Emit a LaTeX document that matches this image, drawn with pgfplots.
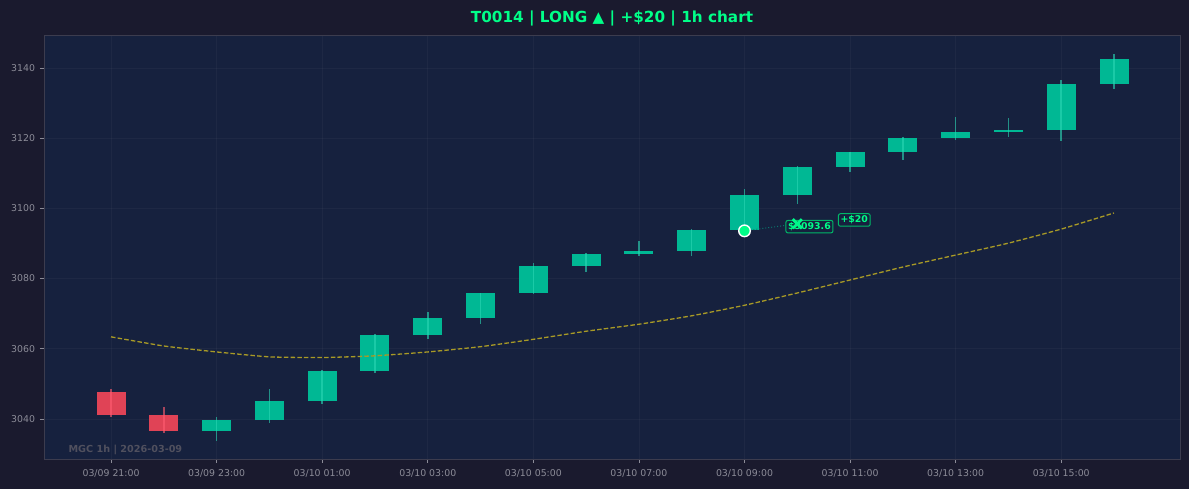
\documentclass[border=0pt]{standalone}
\usepackage{pgfplots}
\pgfplotsset{compat=1.18}
\usepackage{pgfplotstable}
\usepackage{fontspec}
\setmainfont{DejaVu Sans}
\definecolor{figbg}{HTML}{1A1A2E}
\definecolor{plotbg}{HTML}{16213E}
\definecolor{cgreen}{HTML}{00B894}
\definecolor{cred}{HTML}{E04356}
\definecolor{wgreen}{HTML}{2AD6B4}
\definecolor{wred}{HTML}{FF5C70}
\definecolor{neon}{HTML}{00FF88}
\definecolor{lblborder}{HTML}{00B868}
\definecolor{maline}{HTML}{A89A26}
\definecolor{spine}{HTML}{3C3C4E}
\definecolor{ticktext}{HTML}{8C8C98}
\definecolor{wmark}{HTML}{50505E}

\pgfplotstableread{
x open high low close
0 3047.7 3048.5 3040.6 3041.1
1 3041.1 3043.4 3036.1 3036.6
2 3036.6 3040.6 3033.8 3039.7
3 3039.7 3048.5 3038.9 3045.1
4 3045.1 3054.0 3044.3 3053.7
5 3053.7 3064.2 3053.1 3063.9
6 3063.9 3070.5 3062.8 3068.8
7 3068.8 3076.0 3067.1 3075.9
8 3075.9 3084.4 3075.6 3083.6
9 3083.6 3087.3 3081.9 3087.0
10 3087.0 3090.7 3086.4 3087.9
11 3087.9 3094.1 3086.4 3093.8
12 3093.8 3105.5 3093.5 3103.8
13 3103.8 3112.1 3101.3 3111.8
14 3111.8 3116.2 3110.4 3116.1
15 3116.1 3120.4 3113.8 3120.1
16 3120.1 3126.0 3119.5 3121.8
17 3121.8 3125.8 3120.3 3122.3
18 3122.3 3136.6 3119.2 3135.4
19 3135.4 3144.0 3134.0 3142.6
}\candles

\pgfplotstableread{
x ma
0 3063.4
1 3060.8
2 3059.1
3 3057.7
4 3057.5
5 3058.0
6 3059.1
7 3060.6
8 3062.7
9 3065.0
10 3067.0
11 3069.4
12 3072.4
13 3075.9
14 3079.6
15 3083.3
16 3086.7
17 3090.1
18 3094.1
19 3098.7
}\matable

\pgfplotsset{
  candlebar/.style={draw=none, mark=none, forget plot,
    error bars/.cd, y dir=plus, y explicit, error mark=none,
    error bar style={draw=#1, line width=29bp}},
  wickbar/.style={draw=none, mark=none, forget plot,
    error bars/.cd, y dir=plus, y explicit, error mark=none,
    error bar style={draw=#1, draw opacity=0.62, line width=1.5bp}},
}

\begin{document}
\begin{tikzpicture}
\path[use as bounding box] (-44bp,-30bp) rectangle (1145bp,459bp);
\fill[figbg] (-44bp,-30bp) rectangle (1145bp,459bp);
\begin{axis}[
  scale only axis,
  width=1136bp, height=424bp,
  xmin=-1.27, xmax=20.25,
  ymin=3028.6, ymax=3149.4,
  axis background/.style={fill=plotbg},
  axis line style={draw=spine, line width=0.8bp},
  xtick={0,2,4,6,8,10,12,14,16,18},
  xticklabels={03/09 21:00,03/09 23:00,03/10 01:00,03/10 03:00,03/10 05:00,03/10 07:00,03/10 09:00,03/10 11:00,03/10 13:00,03/10 15:00},
  ytick={3040,3060,3080,3100,3120,3140},
  tick align=outside,
  major tick length=4bp,
  tick style={draw=ticktext, line width=0.6bp},
  xtick pos=bottom, ytick pos=left,
  ticklabel style={font=\fontsize{9.4}{10}\selectfont, text=ticktext},
  xticklabel style={yshift=-3.5bp},
  yticklabel style={xshift=-1.5bp},
  /pgf/number format/assume math mode=true,
  /pgf/number format/1000 sep={},
  grid=major,
  major grid style={draw=white, opacity=0.035, line width=0.6bp},
  title={T0014 | LONG ▲ | +\$20 | 1h chart},
  title style={at={(0.5,1)}, anchor=base, yshift=7bp, font=\fontsize{15.3}{18}\selectfont\bfseries, text=neon},
  clip=true,
]
% bodies
\addplot[restrict x to domain=0:1, candlebar=cred]
  table[x=x, y expr={min(\thisrow{open},\thisrow{close})}, y error plus expr={abs(\thisrow{close}-\thisrow{open})}] {\candles};
\addplot[restrict x to domain=2:19, candlebar=cgreen]
  table[x=x, y expr={min(\thisrow{open},\thisrow{close})}, y error plus expr={abs(\thisrow{close}-\thisrow{open})}] {\candles};
% wicks
\addplot[restrict x to domain=0:1, wickbar=wred]
  table[x=x, y=low, y error plus expr={\thisrow{high}-\thisrow{low}}] {\candles};
\addplot[restrict x to domain=2:19, wickbar=wgreen]
  table[x=x, y=low, y error plus expr={\thisrow{high}-\thisrow{low}}] {\candles};
% moving average
\addplot[draw=maline, line width=1.3bp, dash pattern=on 4.5bp off 2.2bp, mark=none, smooth, tension=0.3]
  table[x=x, y=ma] {\matable};
% entry-exit link
\addplot[draw=cgreen!55!plotbg, line width=1bp, dotted, mark=none] coordinates {(12,3093.6) (13,3095.6)};
% labels
\node[draw=lblborder, line width=1bp, fill=plotbg, rounded corners=2bp, inner xsep=2.2bp, inner ysep=2bp,
  text=neon, font=\fontsize{9.4}{10}\selectfont\bfseries] at (axis cs:13.23,3094.8) {\$3093.6};
\node[draw=lblborder, line width=1bp, fill=plotbg, rounded corners=2bp, inner xsep=2.2bp, inner ysep=2bp,
  text=neon, font=\fontsize{9.4}{10}\selectfont\bfseries] at (axis cs:14.08,3096.7) {+\$20};
% markers
\addplot[only marks, mark=*, mark size=5.8bp, mark options={fill=neon, draw=white, line width=1.4bp}] coordinates {(12,3093.6)};
\addplot[only marks, mark=x, mark size=6.5bp, mark options={draw=neon!90!cgreen, line width=3bp}] coordinates {(13,3095.6)};
% watermark
\node[anchor=base west, font=\fontsize{9.7}{10}\selectfont\bfseries, text=wmark] at (rel axis cs:0.0185,0.0165) {MGC 1h | 2026-03-09};
\end{axis}
\end{tikzpicture}
\end{document}
